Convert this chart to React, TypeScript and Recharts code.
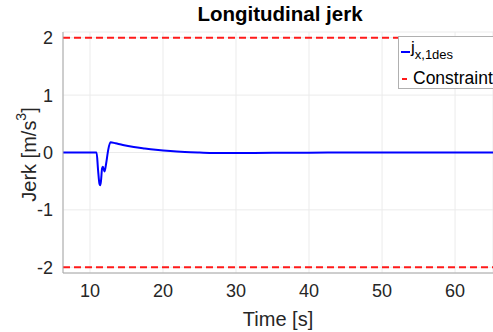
import { LineChart, Line, XAxis, YAxis, CartesianGrid, ReferenceLine, Label } from "recharts";

const time = [6.3, 10.9, 11.1, 11.3, 11.4, 11.5, 11.65, 11.75, 11.9, 12.0, 12.2, 12.5, 12.8, 13.5, 14.5, 16, 17.5, 19, 21, 23, 25, 27, 30, 35, 40, 45, 50, 65.2];
const jerk = [0, 0, -0.3, -0.55, -0.57, -0.5, -0.28, -0.25, -0.3, -0.33, -0.2, 0.05, 0.18, 0.16, 0.13, 0.095, 0.07, 0.048, 0.025, 0.01, 0, -0.008, -0.01, -0.006, -0.003, -0.001, 0, 0];
const constraint = [2, -2];
const xTicks = [10, 20, 30, 40, 50, 60];
const yTicks = [-2, -1, 0, 1, 2];

const data = time.map((t, i) => ({ t, j: jerk[i] }));

const FONT = "'Liberation Sans', Arial, Helvetica, sans-serif";
const TEXT = "#262626";

const YLabel = ({ viewBox }: any) => {
  const cy = viewBox.y + viewBox.height / 2 + 2;
  return (
    <text x={29} y={cy} transform={`rotate(-90, 29, ${cy})`} textAnchor="middle" dominantBaseline="central" fontSize={20} fill={TEXT} fontFamily={FONT}>
      Jerk [m/s<tspan dy={-8} fontSize={14}>3</tspan><tspan dy={8}>]</tspan>
    </text>
  );
};

export default function App() {
  return (
    <div style={{ position: "absolute", left: 0, top: 0, width: 493, height: 332, background: "#fff", fontFamily: FONT }}>
      <div style={{ position: "absolute", left: 0, width: 560, top: 2, textAlign: "center", fontSize: 20.5, fontWeight: "bold", color: "#000" }}>
        Longitudinal jerk
      </div>
      <LineChart width={493} height={332} data={data} margin={{ top: 32, right: 0, bottom: 0, left: 0 }}>
        <CartesianGrid stroke="#ebebeb" vertical horizontal />
        <XAxis
          dataKey="t"
          type="number"
          domain={[6.3, 65.2]}
          ticks={xTicks}
          allowDataOverflow
          height={59}
          stroke="#a6a6a6"
          tickLine={false}
          tickMargin={5}
          tick={{ fill: TEXT, fontSize: 18, fontFamily: FONT }}
        >
          <Label value="Time [s]" position="insideBottom" offset={6} fill={TEXT} fontSize={20} fontFamily={FONT} />
        </XAxis>
        <YAxis
          type="number"
          domain={[-2.1, 2.1]}
          ticks={yTicks}
          allowDataOverflow
          width={63}
          stroke="#a6a6a6"
          tickLine={false}
          tickMargin={4}
          tick={{ fill: TEXT, fontSize: 18, fontFamily: FONT }}
        >
          <Label content={<YLabel />} />
        </YAxis>
        {constraint.map((c) => (
          <ReferenceLine key={c} y={c} stroke="#ff1a1a" strokeWidth={2} strokeDasharray="7 4" />
        ))}
        <Line dataKey="j" type="monotone" stroke="#0000ff" strokeWidth={2} dot={false} isAnimationActive={false} />
      </LineChart>
      <div style={{ position: "absolute", left: 398, top: 36, width: 94, height: 51, border: "1px solid #b0b0b0", background: "#fff", color: "#000" }}>
        <div style={{ position: "absolute", left: 2, top: 14, width: 9, height: 2, background: "#0000ff" }} />
        <div style={{ position: "absolute", left: 12, top: 1, fontSize: 17, lineHeight: "20px" }}>
          j<sub style={{ fontSize: 13, verticalAlign: "-6px" }}>x,1des</sub>
        </div>
        <div style={{ position: "absolute", left: 3, top: 41, width: 5, height: 2, background: "#ff1a1a" }} />
        <div style={{ position: "absolute", left: 14, top: 31, fontSize: 17.5, lineHeight: "20px" }}>Constraint</div>
      </div>
    </div>
  );
}
